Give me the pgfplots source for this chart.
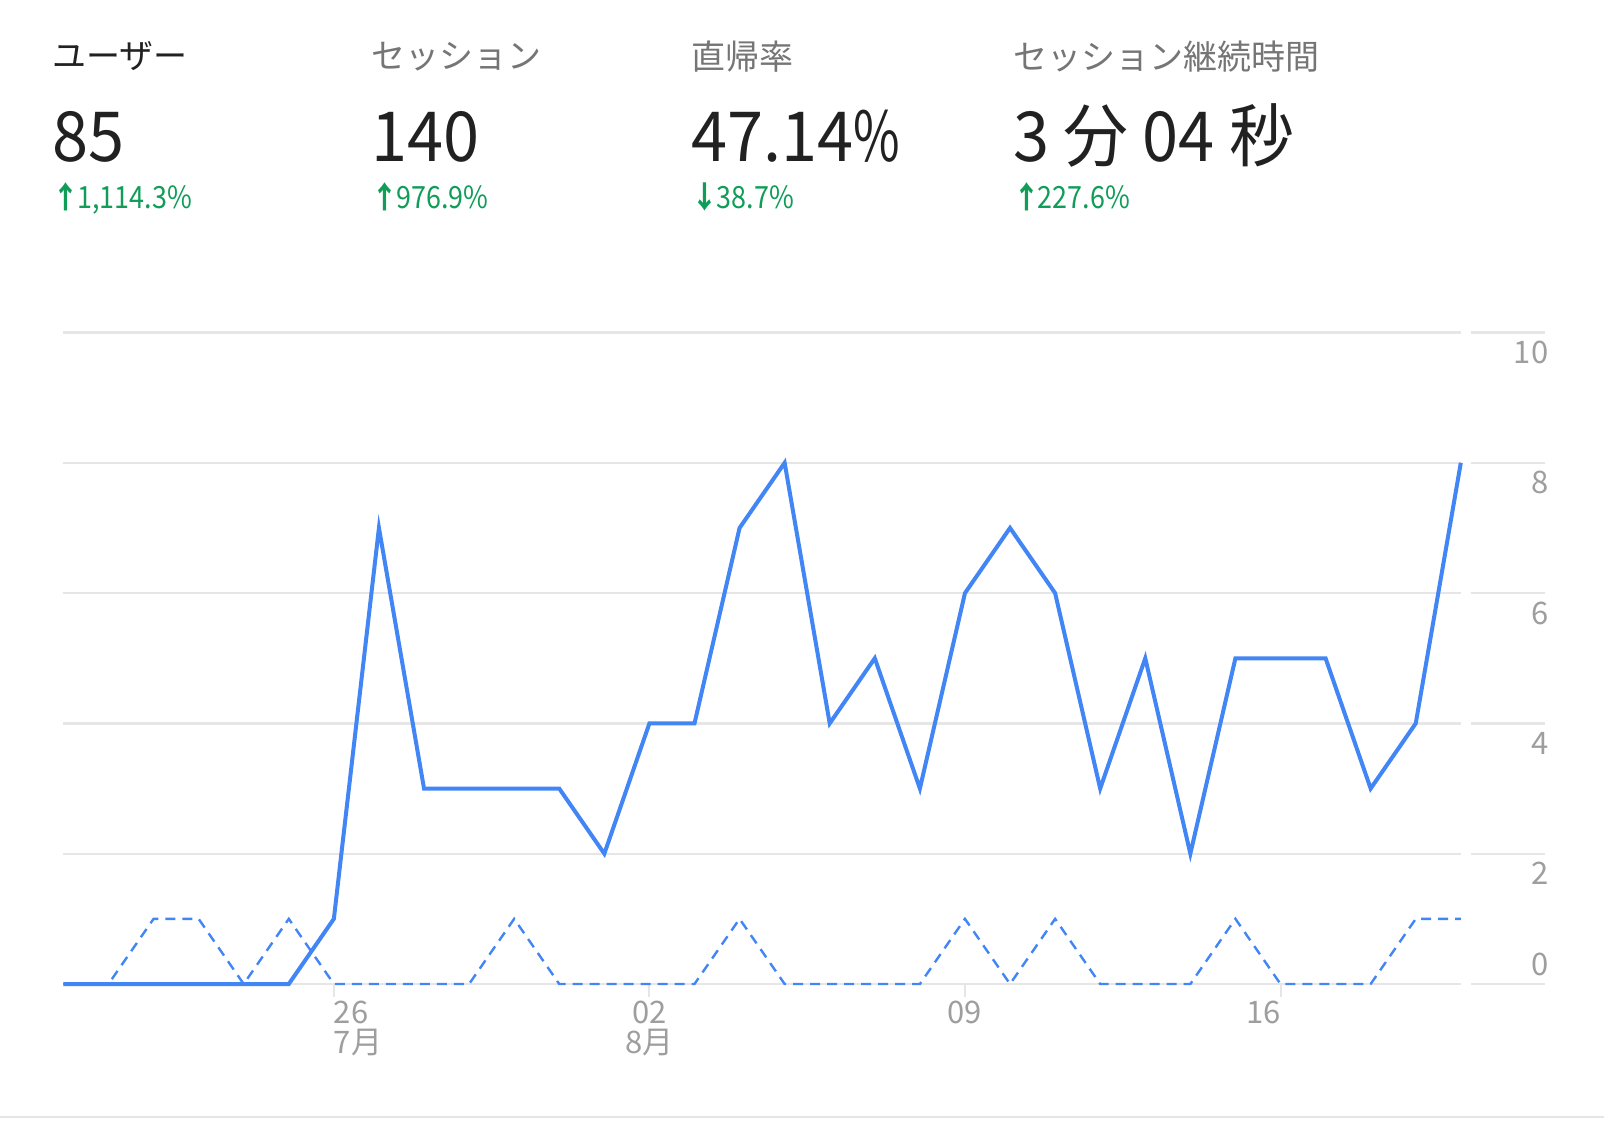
\documentclass[border=0pt]{standalone}
\usepackage{fontspec}
\setmainfont{Noto Sans CJK JP}
\newfontfamily\bigfont{Noto Sans CJK JP}[FakeStretch=0.94]
\newfontfamily\chgfont{Noto Sans CJK JP}[FakeStretch=0.88]
\usepackage{pgfplots}
\usepackage{pgfplotstable}
\pgfplotsset{compat=1.18}
\definecolor{gblue}{HTML}{4285F4}
\definecolor{ggreen}{HTML}{0F9D58}
\definecolor{tdark}{HTML}{212121}
\definecolor{tgray}{HTML}{757575}
\definecolor{lgray}{HTML}{9E9E9E}
\definecolor{gridc}{HTML}{E6E6E6}
\newcommand{\pct}{\scalebox{0.78}[1]{\%}}
\newcommand{\up}{{\bfseries ↑}\hspace{-1pt}}
\newcommand{\down}{{\bfseries ↓}\hspace{-1pt}}

\pgfplotstableread{
i users prev
0 0 0
1 0 0
2 0 1
3 0 1
4 0 0
5 0 1
6 1 0
7 7 0
8 3 0
9 3 0
10 3 1
11 3 0
12 2 0
13 4 0
14 4 0
15 7 1
16 8 0
17 4 0
18 5 0
19 3 0
20 6 1
21 7 0
22 6 1
23 3 0
24 5 0
25 2 0
26 5 1
27 5 0
28 5 0
29 3 0
30 4 1
31 8 1
}\data

\begin{document}
\begin{tikzpicture}
\path[use as bounding box] (0,0) rectangle (802pt,563pt);
% headers
\tikzset{hd/.style={anchor=west,inner sep=0pt,font=\fontsize{17}{20}\selectfont},
         big/.style={anchor=base west,inner sep=0pt,font=\bigfont\fontsize{34.5}{40}\selectfont,text=tdark},
         chg/.style={anchor=base west,inner sep=0pt,font=\chgfont\fontsize{15.3}{18}\selectfont,text=ggreen}}
\node[hd,text=tdark] at (26pt,534.9pt) {ユーザー};
\node[hd,text=tgray] at (185.5pt,534.9pt) {セッション};
\node[hd,text=tgray] at (345.7pt,534.9pt) {直帰率};
\node[hd,text=tgray] at (506.3pt,534.9pt) {セッション継続時間};
\node[big] at (26pt,482.2pt) {85};
\node[big] at (185.5pt,482.2pt) {140};
\node[big] at (345.7pt,482.2pt) {47.14\pct};
\node[big] at (506.3pt,482.2pt) {3 分 04 秒};
\node[chg] at (26pt,458.7pt) {\up 1,114.3\%};
\node[chg] at (185.5pt,458.7pt) {\up 976.9\%};
\node[chg] at (345.7pt,458.7pt) {\down 38.7\%};
\node[chg] at (506.3pt,458.7pt) {\up 227.6\%};
% bottom separator
\draw[gridc,line width=1.2pt] (0pt,4.5pt) -- (802pt,4.5pt);

\begin{axis}[
  at={(31.7pt,71pt)}, anchor=south west,
  scale only axis, width=698.7pt, height=325.75pt,
  xmin=0, xmax=31, ymin=0, ymax=10,
  clip=false,
  axis x line*=bottom, axis y line*=right,
  axis line style={draw=none},
  ytick={0,2,4,6,8,10}, yticklabels={}, ytick style={draw=none},
  ymajorgrids, grid style={gridc, line width=1.2pt},
  xtick={6,13,20,27},
  xticklabels={{\makebox[0pt][l]{\begin{tabular}[t]{@{}l@{}}26\\[-1.5pt]7月\end{tabular}}},
               {\begin{tabular}[t]{@{}c@{}}02\\[-1.5pt]8月\end{tabular}},
               {09},
               {\makebox[0pt][r]{16}}},
  xtick style={draw=gridc, line width=1pt},
  tick align=outside, major tick length=6.5pt,
  xticklabel style={anchor=north, inner sep=0pt, yshift=-2pt, text=lgray,
    font=\fontsize{15.5}{13.4}\selectfont},
]
\pgfplotsinvokeforeach{0,2,4,6,8,10}{
  \draw[gridc,line width=1.2pt] (axis cs:31.22,#1) -- (axis cs:32.86,#1);
}
\pgfplotsinvokeforeach{2,4,6,8,10}{
  \node[anchor=east,inner sep=0pt,xshift=2pt,yshift=-10pt,text=lgray,font=\fontsize{15.5}{18}\selectfont] at (axis cs:32.86,#1) {#1};
}
\node[anchor=east,inner sep=0pt,xshift=2pt,yshift=10pt,text=lgray,font=\fontsize{15.5}{18}\selectfont] at (axis cs:32.86,0) {0};
\addplot[gblue, line width=1.2pt, dash pattern=on 5pt off 3.5pt] table[x=i,y=prev]{\data};
\addplot[gblue, line width=2pt] table[x=i,y=users]{\data};
\end{axis}
\end{tikzpicture}
\end{document}
